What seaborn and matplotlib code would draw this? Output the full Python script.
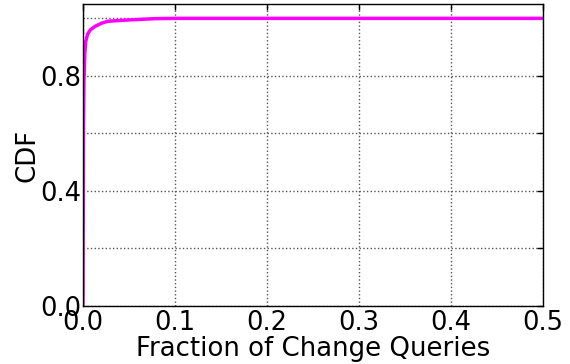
import matplotlib
matplotlib.use("Agg")
import matplotlib.pyplot as plt
import seaborn as sns
import pandas as pd

# Data
frac = [0.0, 0.0005, 0.001, 0.002, 0.003, 0.005, 0.008, 0.013, 0.02, 0.027, 0.046, 0.078, 0.1, 0.2, 0.5]
cdf = [0.0, 0.6, 0.78, 0.88, 0.92, 0.945, 0.96, 0.972, 0.983, 0.99, 0.994, 0.999, 1.0, 1.0, 1.0]
xticks = [0.0, 0.1, 0.2, 0.3, 0.4, 0.5]
xtick_labels = ["0.0", "0.1", "0.2", "0.3", "0.4", "0.5"]
yticks = [0.0, 0.2, 0.4, 0.6, 0.8, 1.0]
ytick_labels = ["0.0", "", "0.4", "", "0.8", ""]

sns.set_style("white")
plt.rcParams['font.family'] = ['DejaVu Sans']
plt.rcParams['text.color'] = 'black'
plt.rcParams['axes.labelcolor'] = 'black'
plt.rcParams['xtick.color'] = 'black'
plt.rcParams['ytick.color'] = 'black'

df = pd.DataFrame({"x": frac, "y": cdf})

fig = plt.figure(figsize=(5.7, 3.64), dpi=100)
ax = fig.add_axes([0.1456, 0.1593, 0.807, 0.8297])

sns.lineplot(data=df, x="x", y="y", ax=ax, color="#ff00ff", lw=2.5, sort=False, estimator=None)

ax.set_xlim(0, 0.5)
ax.set_ylim(0, 1.05)
ax.set_xticks(xticks)
ax.set_xticklabels(xtick_labels)
ax.set_yticks(yticks)
ax.set_yticklabels(ytick_labels)
ax.tick_params(direction="in", length=4, width=1, top=True, right=True, labelsize=18.5, color="black", labelcolor="black")
ax.tick_params(axis="y", pad=1)
ax.tick_params(axis="x", pad=3)
ax.set_xlabel("Fraction of Change Queries", fontsize=18.7, labelpad=0, color="black")
ax.set_ylabel("CDF", fontsize=18.7, labelpad=0, color="black")
ax.grid(True, linestyle=":", color="#555555", linewidth=1)
for s in ax.spines.values():
    s.set_color("black")
    s.set_linewidth(1)

fig.savefig("out.png", dpi=100)
